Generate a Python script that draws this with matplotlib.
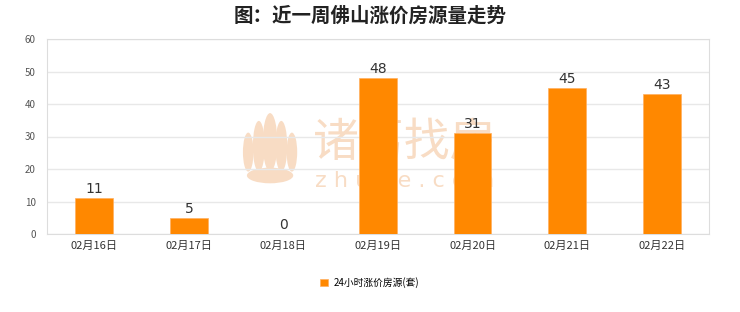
import matplotlib
matplotlib.use("Agg")
from matplotlib import pyplot as plt
from matplotlib.patches import Ellipse

plt.rcParams['font.family'] = ['Noto Sans CJK SC', 'DejaVu Sans']

dates = ['02月16日', '02月17日', '02月18日', '02月19日', '02月20日', '02月21日', '02月22日']
counts = [11, 5, 0, 48, 31, 45, 43]
series_name = '24小时涨价房源(套)'
title = '图：近一周佛山涨价房源量走势'

WM = '#f8dcc4'

fig = plt.figure(figsize=(7.4, 3.12), dpi=100, facecolor='white')
ax = fig.add_axes([0.0635, 0.25, 0.8945, 0.625])

# watermark, below grid and bars
ax.text(0.54, 0.47, '诸葛找房', transform=ax.transAxes, fontsize=33, color=WM,
        ha='center', va='center', zorder=0.5)
ax.text(0.54, 0.27, 'z h u g e . c o m', transform=ax.transAxes, fontsize=16, color=WM,
        ha='center', va='center', family='DejaVu Sans', zorder=0.5)
# rough lotus logo
for dx, w, h, dy in [(0, 0.022, 0.30, 0.0), (-0.017, 0.018, 0.26, -0.02), (0.017, 0.018, 0.26, -0.02),
                     (-0.033, 0.016, 0.20, -0.05), (0.033, 0.016, 0.20, -0.05)]:
    ax.add_patch(Ellipse((0.337 + dx, 0.47 + dy), w, h, transform=ax.transAxes,
                         color=WM, zorder=0.5, lw=0))
ax.add_patch(Ellipse((0.337, 0.30), 0.07, 0.08, transform=ax.transAxes, color=WM, zorder=0.5, lw=0))

x = range(len(dates))
bars = ax.bar(x, counts, width=0.4, color='#ff8800', edgecolor='#ffb060', linewidth=0.5,
              label=series_name, zorder=3)
for xi, v in zip(x, counts):
    ax.text(xi, v + 0.6, str(v), ha='center', va='bottom', fontsize=10, color='#333333',
            family='DejaVu Sans', zorder=4)

ax.set_xlim(-0.5, len(dates) - 0.5)
ax.set_ylim(0, 60)
ax.set_yticks(range(0, 61, 10))
ax.set_xticks(list(x))
ax.set_xticklabels(dates, fontsize=8, color='#333333')
ax.tick_params(axis='y', labelsize=7, colors='#555555', length=0, pad=8)
ax.tick_params(axis='x', length=0, pad=5)
ax.grid(axis='y', color='#e8e8e8', linewidth=1, zorder=1)
for s in ax.spines.values():
    s.set_color('#dddddd')

fig.text(0.5, 0.95, title, ha='center', va='center', fontsize=14, fontweight='bold', color='#222222')

fig.legend(handles=[bars], labels=[series_name], loc='center', bbox_to_anchor=(0.5, 0.095),
           frameon=False, fontsize=7, handlelength=0.8, handleheight=0.8, handletextpad=0.6)

fig.savefig('out.png', dpi=100, facecolor='white')
